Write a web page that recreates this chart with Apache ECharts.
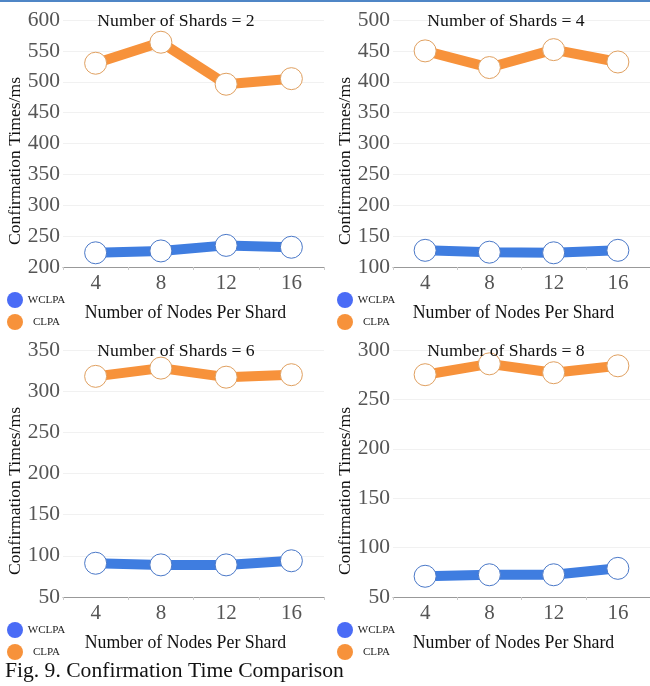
<!DOCTYPE html>
<html>
<head>
<meta charset="utf-8">
<script src="https://cdn.jsdelivr.net/npm/echarts@6/dist/echarts.min.js"></script>
<style>
html,body{margin:0;padding:0;background:#fff;}
#c{width:650px;height:686px;}
</style>
</head>
<body>
<div id="c"></div>
<script>
// ---- data ----
var nodesPerShard = ['4', '8', '12', '16'];
var shardCounts = [2, 4, 6, 8];
var clpa2 = [530, 564, 496, 505];
var wclpa2 = [223, 226, 235, 232];
var clpa4 = [450, 423, 452, 432];
var wclpa4 = [127, 124, 123, 127];
var clpa6 = [318, 328, 317, 320];
var wclpa6 = [91, 89, 89, 94];
var clpa8 = [275, 286, 277, 284];
var wclpa8 = [71, 72.5, 72.5, 79];
var yMins = [200, 100, 50, 50];
var yMaxs = [600, 500, 350, 300];
var yInterval = 50;
var seriesNames = ['WCLPA', 'CLPA'];

var clpaAll = [clpa2, clpa4, clpa6, clpa8];
var wclpaAll = [wclpa2, wclpa4, wclpa6, wclpa8];

// ---- layout / style ----
var FONT = '"Liberation Serif", "Times New Roman", serif';
var BLUE_LINE = '#3f7de0';
var BLUE_LEG = '#4a6cf6';
var ORANGE = '#f7923b';
var gridPos = [
  {left: 63, top: 20},
  {left: 393, top: 20},
  {left: 63, top: 350},
  {left: 393, top: 350}
];
var gridW = 261, gridH = 247;

var grids = [], xAxes = [], yAxes = [], series = [], titles = [], legends = [], graphics = [];

for (var i = 0; i < 4; i++) {
  var gp = gridPos[i];
  grids.push({left: gp.left, top: gp.top, width: gridW, height: gridH, containLabel: false});
  xAxes.push({
    type: 'category', gridIndex: i, data: nodesPerShard, boundaryGap: true,
    name: 'Number of Nodes Per Shard', nameLocation: 'middle', nameGap: 37,
    nameTextStyle: {fontFamily: FONT, fontSize: 17.8, color: '#111', padding: [0, 16, 0, 0]},
    axisLine: {lineStyle: {color: '#999', width: 1}},
    axisTick: {show: true, length: 3, lineStyle: {color: '#ccc'}},
    axisLabel: {fontFamily: FONT, fontSize: 21, color: '#555', margin: 6},
    splitLine: {show: false}
  });
  yAxes.push({
    type: 'value', gridIndex: i, min: yMins[i], max: yMaxs[i], interval: yInterval,
    axisLine: {show: false}, axisTick: {show: false},
    axisLabel: {fontFamily: FONT, fontSize: 21.5, color: '#555', margin: 3},
    splitLine: {show: true, lineStyle: {color: '#f1f1f1', width: 1}}
  });
  series.push({
    name: seriesNames[0], type: 'line', xAxisIndex: i, yAxisIndex: i,
    data: wclpaAll[i], symbol: 'circle', symbolSize: 22,
    lineStyle: {color: BLUE_LINE, width: 10},
    itemStyle: {color: '#fff', borderColor: '#4a78c8', borderWidth: 1},
    color: BLUE_LEG, z: 2
  });
  series.push({
    name: seriesNames[1], type: 'line', xAxisIndex: i, yAxisIndex: i,
    data: clpaAll[i], symbol: 'circle', symbolSize: 22,
    lineStyle: {color: ORANGE, width: 10},
    itemStyle: {color: '#fff', borderColor: '#e0a060', borderWidth: 1},
    color: ORANGE, z: 2
  });
  titles.push({
    text: 'Number of Shards = ' + shardCounts[i],
    left: gp.left + 113, top: gp.top - 8, textAlign: 'center', padding: 0,
    textStyle: {fontFamily: FONT, fontSize: 17.7, fontWeight: 'normal', color: '#111'}
  });
  legends.push({
    orient: 'vertical', left: gp.left - 61, top: gp.top + 267,
    icon: 'circle', itemWidth: 16, itemHeight: 16, itemGap: 6,
    data: [
      {name: seriesNames[0], itemStyle: {color: BLUE_LEG, borderWidth: 0}},
      {name: seriesNames[1], itemStyle: {color: ORANGE, borderWidth: 0}}
    ],
    formatter: '{n|{name}}',
    textStyle: {rich: {n: {fontFamily: FONT, fontSize: 11, color: '#222', width: 37, align: 'center'}}},
    selectedMode: false
  });
  graphics.push({
    type: 'text', x: gp.left - 48, y: gp.top + 141, rotation: Math.PI / 2,
    style: {text: 'Confirmation Times/ms', fontFamily: FONT, fontSize: 17.6, fill: '#111', align: 'center', verticalAlign: 'middle'}
  });
}

graphics.push({type: 'rect', shape: {x: 0, y: 0, width: 650, height: 2}, style: {fill: '#4f86c6'}});
graphics.push({
  type: 'text', x: 5, y: 671,
  style: {text: 'Fig. 9. Confirmation Time Comparison', fontFamily: FONT, fontSize: 21.6, fill: '#111', align: 'left', verticalAlign: 'middle'}
});

var chart = echarts.init(document.getElementById('c'), null, {renderer: 'canvas'});
chart.setOption({
  backgroundColor: '#fff',
  animation: false,
  title: titles,
  legend: legends,
  grid: grids,
  xAxis: xAxes,
  yAxis: yAxes,
  series: series,
  graphic: graphics
});
</script>
</body>
</html>
